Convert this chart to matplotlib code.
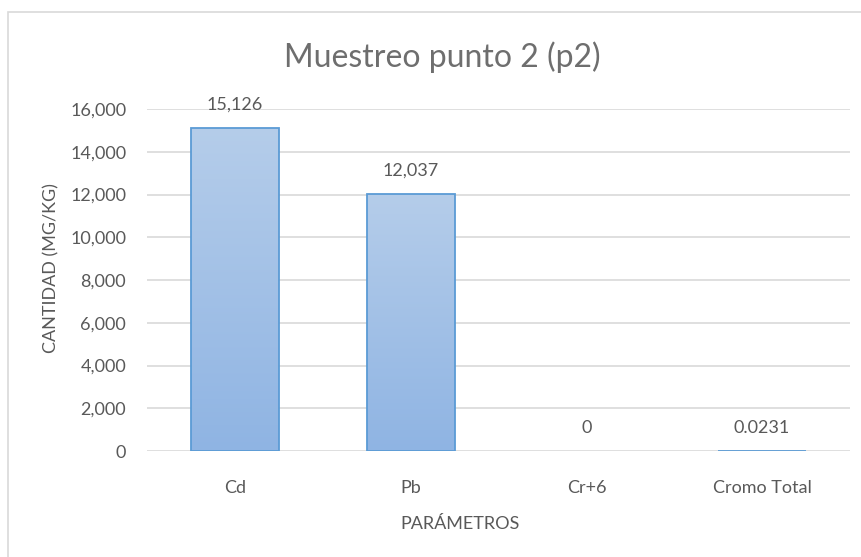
import numpy as np
import matplotlib
matplotlib.use("Agg")
from matplotlib import pyplot as plt
from matplotlib.patches import Rectangle
from matplotlib.colors import LinearSegmentedColormap

# data
categories = ["Cd", "Pb", "Cr+6", "Cromo Total"]
values = [15126, 12037, 0, 0.0231]
value_labels = ["15,126", "12,037", "0", "0.0231"]
y_ticks = [0, 2000, 4000, 6000, 8000, 10000, 12000, 14000, 16000]

plt.rcParams['font.family'] = ['Lato', 'DejaVu Sans']
GRAY = '#595959'

W, H = 862, 557
fig = plt.figure(figsize=(W / 100, H / 100), dpi=100)
ax = fig.add_axes([147 / W, 1 - 451 / H, (850 - 147) / W, (451 - 109) / H])

x = np.arange(len(categories))
lw = [1.3 if v > 0 else 0 for v in values]
bars = ax.bar(x, values, width=0.5, color='none', edgecolor='#5b9bd5', linewidth=lw, zorder=3)

# vertical gradient fill like the Excel default
cmap = LinearSegmentedColormap.from_list('g', ['#8fb4e3', '#b5cdea'])
grad = np.linspace(0, 1, 256).reshape(-1, 1)
for b in bars:
    if b.get_height() <= 0:
        continue
    x0, y0 = b.get_x(), b.get_y()
    im = ax.imshow(grad, cmap=cmap, origin='lower', aspect='auto',
                   extent=[x0, x0 + b.get_width(), y0, y0 + b.get_height()], zorder=2)
    im.set_clip_path(b)

for b, lab in zip(bars, value_labels):
    ax.annotate(lab, (b.get_x() + b.get_width() / 2, b.get_height()),
                xytext=(0, 11), textcoords='offset points', ha='center', va='bottom',
                fontsize=13, color=GRAY)

ax.set_xlim(-0.5, len(categories) - 0.5)
ax.set_ylim(0, 16000)
ax.set_yticks(y_ticks)
ax.set_yticklabels([f"{t:,}" for t in y_ticks])
ax.set_xticks(x)
ax.set_xticklabels(categories)
ax.tick_params(length=0, labelsize=13, labelcolor=GRAY)
ax.tick_params(axis='y', pad=15)
ax.tick_params(axis='x', pad=21)
ax.set_axisbelow(True)
ax.yaxis.grid(True, color='#d9d9d9', linewidth=1.2)
for s in ax.spines.values():
    s.set_visible(False)

fig.text(442 / W, 1 - 57 / H, "Muestreo punto 2 (p2)", ha='center', va='center',
         fontsize=23, color='#6e6e6e')
fig.text(51 / W, 1 - 268 / H, "CANTIDAD (MG/KG)", ha='center', va='center',
         rotation=90, fontsize=13, color=GRAY)
fig.text(460 / W, 1 - 524 / H, "PARÁMETROS", ha='center', va='center',
         fontsize=13, color=GRAY)

# chart area border
fig.patches.append(Rectangle((8 / W, -0.05), 1.2, 1 - 12 / H + 0.05, transform=fig.transFigure,
                             fill=False, edgecolor='#d9d9d9', linewidth=1.2))

fig.savefig("out.png", dpi=100)
